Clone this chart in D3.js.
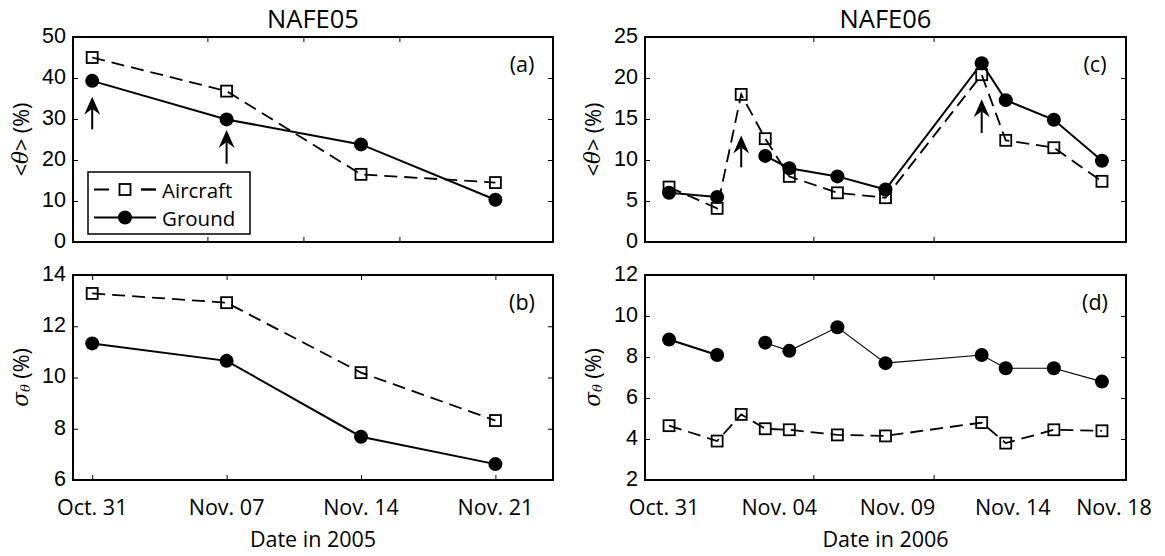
<!DOCTYPE html>
<html>
<head>
<meta charset="utf-8">
<script src="https://cdn.jsdelivr.net/npm/d3@7"></script>
<style>
  html, body { margin: 0; padding: 0; background: #fff; }
  svg { display: block; font-family: 'Open Sans', 'DejaVu Sans', sans-serif; }
</style>
</head>
<body>
<svg id="chart" width="1165" height="556"></svg>
<script>
// ---------- NAFE05 (2005) ----------
const dates05 = ["2005-10-31", "2005-11-07", "2005-11-14", "2005-11-21"];
const aircraftMean05 = [45.0, 36.8, 16.5, 14.5];
const groundMean05   = [39.3, 29.9, 23.8, 10.3];
const aircraftStd05  = [13.28, 12.92, 10.19, 8.32];
const groundStd05    = [11.33, 10.65, 7.69, 6.62];
const tickLabels05   = ["Oct. 31", "Nov. 07", "Nov. 14", "Nov. 21"];

// ---------- NAFE06 (2006); null = no ground sampling that day ----------
const dates06 = ["2006-10-31", "2006-11-02", "2006-11-03", "2006-11-04", "2006-11-05",
                 "2006-11-07", "2006-11-09", "2006-11-13", "2006-11-14", "2006-11-16", "2006-11-18"];
const aircraftMean06 = [6.7, 4.1, 18.0, 12.6, 8.0, 6.0, 5.4, 20.4, 12.4, 11.5, 7.4];
const groundMean06   = [6.0, 5.5, null, 10.5, 9.0, 8.0, 6.4, 21.8, 17.3, 14.9, 9.9];
const aircraftStd06  = [4.65, 3.9, 5.2, 4.5, 4.45, 4.2, 4.15, 4.8, 3.8, 4.45, 4.4];
const groundStd06    = [8.85, 8.1, null, 8.7, 8.3, 9.45, 7.7, 8.1, 7.45, 7.45, 6.8];
const tickLabels06   = ["Oct. 31", "Nov. 04", "Nov. 09", "Nov. 14", "Nov. 18"];

// Arrows marking selected days (date, tail value, tip value)
const arrowDates05 = ["2005-10-31", "2005-11-07"];
const arrowTail05  = [27.5, 19.1];
const arrowTip05   = [35.4, 27.3];
const arrowDates06 = ["2006-11-03", "2006-11-13"];
const arrowTail06  = [9.1, 13.3];
const arrowTip06   = [13.0, 17.4];

// ---------- layout ----------
const parse = d3.utcParse("%Y-%m-%d");
const svg = d3.select("#chart");
const FS = 21.5;

const colL = { x0: 73, x1: 553, domain: [parse("2005-10-30"), parse("2005-11-24")] };
const colR = { x0: 645, x1: 1126, domain: [parse("2006-10-30"), parse("2006-11-19")] };
const rowT = { y0: 37, y1: 242 };
const rowB = { y0: 275, y1: 480 };

const xL = d3.scaleUtc().domain(colL.domain).range([colL.x0, colL.x1]);
const xR = d3.scaleUtc().domain(colR.domain).range([colR.x0, colR.x1]);

const every5L = d3.utcDay.every(5).range(parse("2005-11-04"), parse("2005-11-20"));
const every5R = d3.utcDay.every(5).range(parse("2006-11-04"), parse("2006-11-15"));
const tickDates05 = dates05.map(parse);
// label anchor offsets (days after Oct 30, 2006) for the 2006 date labels
const labelDays06 = [0.8, 5.6, 10.5, 15.3, 19.5];

function pack(dates, values) {
  return dates.map((d, i) => ({ date: parse(d), v: values[i] }));
}

const panels = [
  { tag: "(a)", x: xL, row: rowT, yDomain: [0, 50], yTicks: d3.range(0, 51, 10), xTicks: every5L,
    ylab: "mean", aircraft: pack(dates05, aircraftMean05), ground: pack(dates05, groundMean05),
    arrows: { dates: arrowDates05, tail: arrowTail05, tip: arrowTip05 }, legend: true },
  { tag: "(b)", x: xL, row: rowB, yDomain: [6, 14], yTicks: d3.range(6, 15, 2), xTicks: tickDates05,
    ylab: "std", aircraft: pack(dates05, aircraftStd05), ground: pack(dates05, groundStd05),
    xLabels: tickLabels05, xLabelAt: tickDates05, xTitle: "Date in 2005" },
  { tag: "(c)", x: xR, row: rowT, yDomain: [0, 25], yTicks: d3.range(0, 26, 5), xTicks: every5R,
    ylab: "mean", aircraft: pack(dates06, aircraftMean06), ground: pack(dates06, groundMean06),
    arrows: { dates: arrowDates06, tail: arrowTail06, tip: arrowTip06 } },
  { tag: "(d)", x: xR, row: rowB, yDomain: [2, 12], yTicks: d3.range(2, 13, 2), xTicks: every5R,
    ylab: "std", aircraft: pack(dates06, aircraftStd06), ground: pack(dates06, groundStd06),
    groundRunWidths: [2.2, 1.1],
    xLabels: tickLabels06, xLabelAt: labelDays06.map(k => d3.utcHour.offset(colR.domain[0], Math.round(k * 24))),
    xTitle: "Date in 2006" }
];

// Titles
svg.append("text").attr("x", (colL.x0 + colL.x1) / 2).attr("y", 28)
  .attr("text-anchor", "middle").attr("font-size", 25.5).text("NAFE05");
svg.append("text").attr("x", (colR.x0 + colR.x1) / 2).attr("y", 28)
  .attr("text-anchor", "middle").attr("font-size", 25.5).text("NAFE06");

function yLabel(g, kind, cx, cy) {
  const t = g.append("text")
    .attr("transform", `translate(${cx},${cy}) rotate(-90)`)
    .attr("text-anchor", "middle").attr("dominant-baseline", "central")
    .attr("font-size", FS);
  if (kind === "mean") {
    t.append("tspan").text("<");
    t.append("tspan").attr("font-family", "'DejaVu Serif', serif").attr("font-style", "italic").text("θ");
    t.append("tspan").text("> (%)");
  } else {
    t.append("tspan").attr("font-family", "'DejaVu Serif', serif").attr("font-style", "italic").text("σ");
    t.append("tspan").attr("font-family", "'DejaVu Serif', serif").attr("font-style", "italic")
      .attr("font-size", 13).attr("dy", 5).text("θ");
    t.append("tspan").attr("dy", -5).text(" (%)");
  }
}

panels.forEach(p => {
  const g = svg.append("g");
  const x = p.x;
  const [xa, xb] = x.range();
  const y = d3.scaleLinear().domain(p.yDomain).range([p.row.y1, p.row.y0]);

  // axes with inward ticks on all four sides
  const left = d3.axisLeft(y).tickValues(p.yTicks).tickSize(-5).tickPadding(7).tickFormat(d3.format("d"));
  const right = d3.axisRight(y).tickValues(p.yTicks).tickSize(-5).tickFormat("");
  const bottom = d3.axisBottom(x).tickValues(p.xTicks).tickSize(-5).tickFormat("");
  const top = d3.axisTop(x).tickValues(p.xTicks).tickSize(-5).tickFormat("");

  g.append("g").attr("transform", `translate(${xa},0)`).call(left);
  g.append("g").attr("transform", `translate(${xb},0)`).call(right);
  g.append("g").attr("transform", `translate(0,${p.row.y1})`).call(bottom);
  g.append("g").attr("transform", `translate(0,${p.row.y0})`).call(top);
  g.selectAll(".domain").remove();
  g.selectAll(".tick line").attr("stroke", "#000").attr("stroke-width", 1);
  g.selectAll(".tick text").attr("font-size", FS).attr("font-family", null).attr("fill", "#000")
    .attr("dy", "0.25em");

  g.append("rect").attr("x", xa).attr("y", p.row.y0)
    .attr("width", xb - xa).attr("height", p.row.y1 - p.row.y0)
    .attr("fill", "none").attr("stroke", "#000").attr("stroke-width", 2);

  // date labels
  if (p.xLabels) {
    g.selectAll(".xl").data(p.xLabels).join("text")
      .attr("x", (d, i) => x(p.xLabelAt[i])).attr("y", p.row.y1 + 35)
      .attr("text-anchor", "middle").attr("font-size", FS).text(d => d);
    g.append("text").attr("x", (xa + xb) / 2).attr("y", 547)
      .attr("text-anchor", "middle").attr("font-size", FS).text(p.xTitle);
  }

  yLabel(g, p.ylab, xa - 53, (p.row.y0 + p.row.y1) / 2);

  g.append("text").attr("x", xb - 31).attr("y", p.row.y0 + 26)
    .attr("dominant-baseline", "central").attr("text-anchor", "middle")
    .attr("font-size", FS).text(p.tag);

  const line = d3.line().defined(d => d.v != null).x(d => x(d.date)).y(d => y(d.v));

  // aircraft: dashed line with open squares
  g.append("path").datum(p.aircraft).attr("d", line)
    .attr("fill", "none").attr("stroke", "#000").attr("stroke-width", 1.8)
    .attr("stroke-dasharray", "13,7");
  // ground: solid line with filled circles (split into contiguous runs)
  const runs = [];
  let cur = [];
  p.ground.forEach(d => { if (d.v == null) { if (cur.length) runs.push(cur); cur = []; } else cur.push(d); });
  if (cur.length) runs.push(cur);
  runs.forEach((r, i) => {
    const w = p.groundRunWidths ? p.groundRunWidths[Math.min(i, p.groundRunWidths.length - 1)] : 2;
    g.append("path").datum(r).attr("d", line)
      .attr("fill", "none").attr("stroke", "#000").attr("stroke-width", w);
  });

  g.selectAll(".sq").data(p.aircraft.filter(d => d.v != null)).join("rect")
    .attr("x", d => x(d.date) - 5.5).attr("y", d => y(d.v) - 5.5)
    .attr("width", 11).attr("height", 11)
    .attr("fill", "none").attr("stroke", "#000").attr("stroke-width", 1.8);
  g.selectAll(".ci").data(p.ground.filter(d => d.v != null)).join("circle")
    .attr("cx", d => x(d.date)).attr("cy", d => y(d.v)).attr("r", 7).attr("fill", "#000");

  // arrows
  if (p.arrows) {
    p.arrows.dates.forEach((ds, i) => {
      const ax = x(parse(ds));
      const yTip = y(p.arrows.tip[i]);
      const yTail = y(p.arrows.tail[i]);
      g.append("line").attr("x1", ax).attr("x2", ax).attr("y1", yTail).attr("y2", yTip + 12)
        .attr("stroke", "#000").attr("stroke-width", 2);
      g.append("path")
        .attr("d", `M${ax},${yTip} L${ax + 8},${yTip + 18} L${ax},${yTip + 12} L${ax - 8},${yTip + 18} Z`)
        .attr("fill", "#000");
    });
  }

  // legend
  if (p.legend) {
    const LFS = 20.5;
    const lg = g.append("g");
    lg.append("rect").attr("x", 88).attr("y", 172).attr("width", 162).attr("height", 62)
      .attr("fill", "#fff").attr("stroke", "#000").attr("stroke-width", 1.5);
    const rows = [{ name: "Aircraft", y: 189.5, kind: "a" }, { name: "Ground", y: 217.5, kind: "g" }];
    rows.forEach(r => {
      const l = lg.append("line").attr("x1", 94).attr("x2", 156).attr("y1", r.y).attr("y2", r.y)
        .attr("stroke", "#000").attr("stroke-width", r.kind === "a" ? 1.8 : 2);
      if (r.kind === "a") {
        l.attr("stroke-dasharray", "15,32");
        lg.append("line").attr("x1", 141).attr("x2", 156).attr("y1", r.y).attr("y2", r.y)
          .attr("stroke", "#000").attr("stroke-width", 1.8);
        lg.append("rect").attr("x", 125 - 5.5).attr("y", r.y - 5.5).attr("width", 11).attr("height", 11)
          .attr("fill", "none").attr("stroke", "#000").attr("stroke-width", 1.8);
      } else {
        lg.append("circle").attr("cx", 125).attr("cy", r.y).attr("r", 7).attr("fill", "#000");
      }
      lg.append("text").attr("x", 162).attr("y", r.y).attr("dominant-baseline", "central")
        .attr("font-size", LFS).text(r.name);
    });
  }
});
</script>
</body>
</html>
